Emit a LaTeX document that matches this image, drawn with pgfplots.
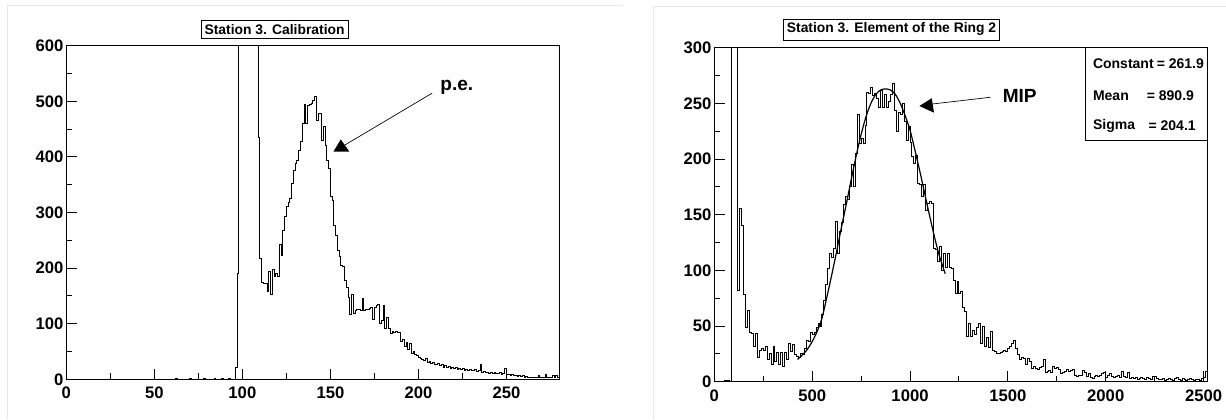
\documentclass[border=0pt]{standalone}
\usepackage{fontspec}
\setmainfont{Liberation Sans}
\usepackage{pgfplots}
\pgfplotsset{compat=1.18}
\pgfplotsset{
  rootstyle/.style={
    scale only axis,
    axis on top,
    clip mode=individual,
    tick pos=left,
    tick align=inside,
    major tick length=8pt,
    minor tick length=4.5pt,
    minor x tick num=1,
    minor y tick num=1,
    axis line style={line width=0.75pt},
    tick style={line width=0.75pt,black},
    /pgf/number format/assume math mode=true,
    /pgf/number format/1000 sep={},
    xticklabel={\bfseries\pgfmathprintnumber{\tick}},
    yticklabel={\bfseries\pgfmathprintnumber{\tick}},
    ticklabel style={font=\fontsize{12.5}{14}\selectfont\bfseries},
    yticklabel style={inner xsep=2pt},
    xticklabel style={yshift=-2.5pt},
  }
}
\begin{document}
\begin{tikzpicture}
\useasboundingbox[fill=white] (0,0) rectangle (919.5pt,314.25pt);
% pad frames
\draw[gray!18,line width=0.75pt] (5.25pt,0) -- (5.25pt,310.5pt) -- (467.25pt,310.5pt);
\draw[gray!18,line width=0.75pt] (489.75pt,0) -- (489.75pt,309.75pt) -- (919.5pt,309.75pt);

% ---------------- left panel ----------------
\begin{axis}[rootstyle,
  at={(49.73pt,29.78pt)}, anchor=south west,
  width=369.75pt, height=250.2pt,
  xmin=0, xmax=280, ymin=0, ymax=600,
  xtick={0,50,...,250}, ytick={0,100,...,600}]
\addplot[const plot, black, line width=0.75pt] table {
x y
0 0
62 1
63 0
70 1
71 0
78 2
79 0
84 1
85 0
88 1
89 0
92 2
93 0
96 22
97 190
98 1500
109 435
110 217
111 175
112 173
113 172
114 158
115 194
116 152
117 198
118 185
119 190
120 185
121 243
122 222
123 268
124 292
125 310
126 318
127 325
128 352
129 376
130 388
131 394
132 412
133 427
134 460
135 495
136 460
137 493
138 495
139 496
140 502
141 508
142 465
143 478
144 478
145 430
146 454
147 421
148 394
149 379
150 328
151 322
152 277
153 259
154 232
155 220
156 205
157 202
158 178
159 166
160 148
161 116
162 152
163 119
164 124
165 126
166 125
167 124
168 145
169 124
170 126
171 125
172 128
173 130
174 107
175 130
176 133
177 134
178 101
179 105
180 133
181 92
182 112
183 92
184 83
185 86
186 85
187 86
188 84
189 85
190 68
191 72
192 59
193 66
194 53
195 64
196 47
197 50
198 45
199 42
200 40
201 38
202 36
203 34
204 38
205 30
206 32
207 29
208 30
209 27
210 26
211 28
212 24
213 26
214 22
215 24
216 22
217 23
218 20
219 22
220 19
221 21
222 18
223 19
224 17
225 19
226 16
227 18
228 15
229 17
230 16
231 15
232 17
233 14
234 15
235 27
236 13
237 14
238 12
239 13
240 11
241 13
242 10
243 12
244 11
245 10
246 12
247 9
248 11
249 20
250 9
251 8
252 7
253 8
254 6
255 7
256 5
257 6
258 5
259 6
260 4
261 5
262 4
263 3
264 4
265 3
266 4
267 3
268 6
269 3
270 4
271 3
272 8
273 3
274 4
275 3
276 6
277 3
278 7
279 4
280 4
};
\node[draw, line width=0.6pt, fill=white, font=\fontsize{10.4}{12}\selectfont\bfseries, inner xsep=2.5pt, inner ysep=3pt] at (axis cs:118.3,629) {Station 3. Calibration};
\node[font=\fontsize{14.3}{16}\selectfont\bfseries] at (axis cs:221.8,525.6) {p.e.};
\draw[line width=0.5pt] (axis cs:207.8,514.7) -- (axis cs:158,421);
\fill (axis cs:151.7,409.3) -- (axis cs:160.8,409.3) -- (axis cs:155.9,431.5) -- cycle;
\end{axis}

% ---------------- right panel ----------------
\begin{axis}[rootstyle,
  at={(535.73pt,27.98pt)}, anchor=south west,
  width=369.9pt, height=250.5pt,
  xmin=0, xmax=2520, ymin=0, ymax=300,
  xtick={0,500,...,2500}, ytick={0,50,...,300}]
\addplot[const plot, black, line width=0.75pt] table {
x y
0 0
50 1
80 0
90 1000
120 82
130 156
140 140
150 78
160 49
170 64
180 44
190 43
200 32
210 43
220 22
230 28
240 30
250 28
260 32
270 20
280 25
290 15
300 32
310 18
320 26
330 15
340 26
350 14
360 26
370 20
380 34
390 27
400 33
410 24
420 23
430 22
440 25
450 24
460 30
470 37
480 36
490 44
500 42
510 44
520 49
530 52
540 50
550 60
560 73
570 87
580 102
590 115
600 112
610 120
620 144
630 115
640 135
650 143
660 159
670 166
680 164
690 175
700 195
710 175
720 205
730 240
740 214
750 218
760 214
770 230
780 260
790 259
800 264
810 257
820 259
830 254
840 246
850 262
860 246
870 258
880 246
890 252
900 258
910 268
920 244
930 225
940 242
950 240
960 250
970 234
980 217
990 229
1000 215
1010 202
1020 196
1030 203
1040 178
1050 177
1060 166
1070 177
1080 154
1090 160
1100 162
1110 160
1120 120
1130 119
1140 108
1150 121
1160 100
1170 115
1180 103
1190 115
1200 103
1210 102
1220 91
1230 79
1240 90
1250 79
1260 81
1270 67
1280 63
1290 41
1300 52
1310 41
1320 46
1330 42
1340 49
1350 52
1360 34
1370 50
1380 32
1390 40
1400 31
1410 45
1420 28
1430 27
1440 25
1450 25
1460 26
1470 27
1480 28
1490 27
1500 30
1510 32
1520 34
1530 37
1540 30
1550 24
1560 20
1570 22
1580 21
1590 15
1600 21
1610 18
1620 12
1630 14
1640 12
1650 11
1660 13
1670 14
1680 20
1690 8
1700 9
1710 10
1720 8
1730 14
1740 12
1750 13
1760 11
1770 7
1780 8
1790 9
1800 11
1810 9
1820 10
1830 11
1840 6
1850 5
1860 6
1870 6
1880 10
1890 8
1900 5
1910 7
1920 4
1930 3
1940 5
1950 6
1960 5
1970 6
1980 7
1990 8
2000 4
2010 6
2020 7
2030 5
2040 4
2050 5
2060 6
2070 4
2080 9
2090 5
2100 4
2110 8
2120 3
2130 4
2140 3
2150 4
2160 2
2170 3
2180 4
2190 3
2200 2
2210 4
2220 3
2230 2
2240 5
2250 5
2260 3
2270 2
2280 2
2290 3
2300 1
2310 2
2320 3
2330 2
2340 1
2350 3
2360 4
2370 2
2380 1
2390 3
2400 2
2410 1
2420 2
2430 3
2440 2
2450 1
2460 2
2470 2
2480 1
2490 3
2500 4
2510 9
2520 9
};
\addplot[smooth, black, line width=0.9pt] coordinates {
(425,20) (450,24) (475,29) (500,36) (525,45) (550,57) (575,76) (600,96)
(625,117) (650,139) (675,160) (700,182) (725,203) (750,222) (775,238)
(800,250) (825,258) (850,262) (875,263) (900,262) (925,258) (950,250)
(975,239) (1000,226) (1025,208) (1050,189) (1075,169) (1100,149)
(1125,130) (1150,113) (1180,97)
};
\node[draw, line width=0.6pt, fill=white, font=\fontsize{10.4}{12}\selectfont\bfseries, inner xsep=2.5pt, inner ysep=3pt] at (axis cs:905.5,316.4) {Station 3. Element of the Ring 2};
\node[font=\fontsize{14.3}{16}\selectfont\bfseries] at (axis cs:1560.5,256.8) {MIP};
\draw[line width=0.5pt] (axis cs:1412,255.5) -- (axis cs:1112,249.4);
\fill (axis cs:1047.5,247.6) -- (axis cs:1110.9,254.6) -- (axis cs:1122.6,241.6) -- cycle;
\draw[line width=0.75pt, fill=white] (axis cs:1899,216.5) rectangle (axis cs:2520,300);
\begin{scope}[every node/.style={font=\fontsize{10.5}{12}\selectfont\bfseries, inner sep=0pt}]
\node[anchor=west] at (axis cs:1933.6,285.9) {Constant};
\node[anchor=west] at (axis cs:1933.6,256.9) {Mean};
\node[anchor=west] at (axis cs:1933.6,229.6) {Sigma};
\node[anchor=east] at (axis cs:2503,285.9) {= 261.9};
\node[anchor=east] at (axis cs:2452,256.9) {= 890.9};
\node[anchor=east] at (axis cs:2461,229.6) {= 204.1};
\end{scope}
\end{axis}
\end{tikzpicture}
\end{document}
